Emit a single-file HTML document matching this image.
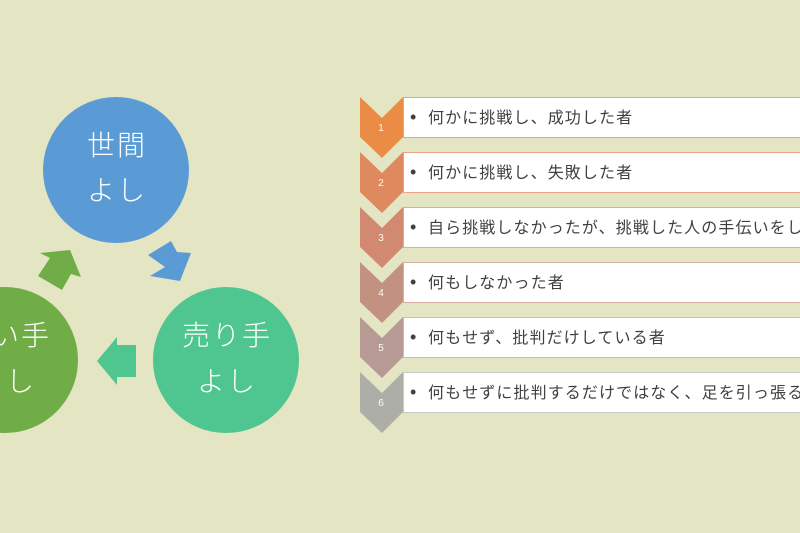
<!DOCTYPE html>
<html><head><meta charset="utf-8"><style>
body{margin:0;width:800px;height:533px;overflow:hidden;background:#E4E5C3;font-family:"Liberation Sans","Noto Sans CJK JP",sans-serif}
</style></head><body>
<svg width="800" height="533" viewBox="0 0 800 533" xmlns="http://www.w3.org/2000/svg" style="position:absolute;left:0;top:0">
<circle cx="116" cy="170" r="73" fill="#5B9BD5"/>
<circle cx="226" cy="360" r="73" fill="#4FC58F"/>
<circle cx="5" cy="360" r="73" fill="#70AD47"/>
<g font-family="Noto Sans CJK JP, sans-serif" font-size="28" fill="#fff" text-anchor="middle" font-weight="300" letter-spacing="2">
<text x="117" y="155">世間</text><text x="117" y="200">よし</text>
<text x="227" y="345">売り手</text><text x="227" y="391">よし</text>
<text x="6" y="345">買い手</text><text x="6" y="391">よし</text>
</g>
<polygon points="148,255 171,241 177,252 191,253 180,281 150,276 165,267" fill="#5B9BD5"/>
<polygon points="38,276 50,258 40,253 70,250 81,277 71,274 62,290" fill="#70AD47"/>
<polygon points="136,345 117,345 117,337 97,361 117,385 117,377 136,377" fill="#4FC58F"/>
<g font-family="Liberation Sans, sans-serif" font-size="10" fill="#fff" text-anchor="middle" opacity="0.85">
<polygon points="360,97 382,118 403,97 403,137 382,158 360,137" fill="#ED7D31"/>
<polygon points="360,152 382,173 403,152 403,192 382,213 360,192" fill="#DF7A4D"/>
<polygon points="360,207 382,228 403,207 403,247 382,268 360,247" fill="#D07A63"/>
<polygon points="360,262 382,283 403,262 403,302 382,323 360,302" fill="#BE8375"/>
<polygon points="360,317 382,338 403,317 403,357 382,378 360,357" fill="#B08E8B"/>
<polygon points="360,372 382,393 403,372 403,412 382,433 360,412" fill="#A5A5A5"/>
<text x="381" y="131">1</text><text x="381" y="186">2</text><text x="381" y="241">3</text><text x="381" y="296">4</text><text x="381" y="351">5</text><text x="381" y="406">6</text>
</g>
<g fill="#fff" stroke-width="1">
<rect x="403.5" y="97.5" width="400" height="40" stroke="#F2A36E"/>
<rect x="403.5" y="152.5" width="400" height="40" stroke="#EBA584"/>
<rect x="403.5" y="207.5" width="400" height="40" stroke="#E4A896"/>
<rect x="403.5" y="262.5" width="400" height="40" stroke="#D7AFA6"/>
<rect x="403.5" y="317.5" width="400" height="40" stroke="#CDB9B6"/>
<rect x="403.5" y="372.5" width="400" height="40" stroke="#C8C8C8"/>
</g>
<g font-family="Liberation Sans, sans-serif" font-size="18" fill="#404040">
<text x="410" y="123">•</text><text x="410" y="178">•</text><text x="410" y="233">•</text><text x="410" y="288">•</text><text x="410" y="343">•</text><text x="410" y="398">•</text>
</g>
<g font-family="Noto Sans CJK JP, sans-serif" font-size="16" fill="#404040" letter-spacing="1.1">
<text x="428" y="123">何かに挑戦し、成功した者</text>
<text x="428" y="178">何かに挑戦し、失敗した者</text>
<text x="428" y="233">自ら挑戦しなかったが、挑戦した人の手伝いをした者</text>
<text x="428" y="288">何もしなかった者</text>
<text x="428" y="343">何もせず、批判だけしている者</text>
<text x="428" y="398">何もせずに批判するだけではなく、足を引っ張る者</text>
</g>
</svg>
</body></html>
